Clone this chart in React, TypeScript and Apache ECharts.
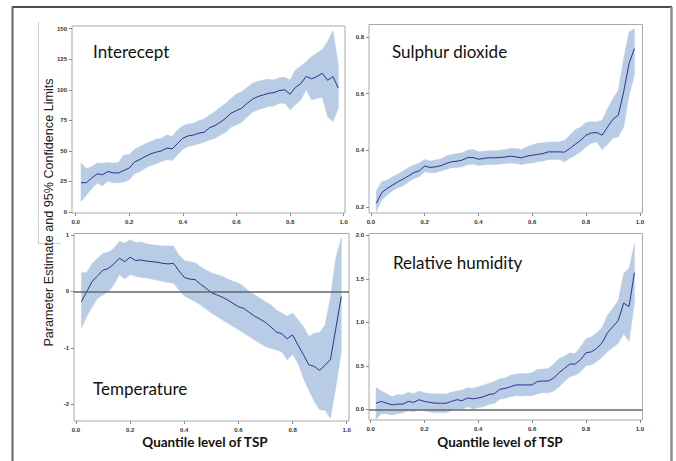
import React, { useEffect, useRef } from "react";
import * as echarts from "echarts";

const quantiles = [0.02, 0.04, 0.06, 0.08, 0.1, 0.12, 0.14, 0.16, 0.18, 0.2, 0.22, 0.24, 0.26, 0.28, 0.3, 0.32, 0.34, 0.36, 0.38, 0.4, 0.42, 0.44, 0.46, 0.48, 0.5, 0.52, 0.54, 0.56, 0.58, 0.6, 0.62, 0.64, 0.66, 0.68, 0.7, 0.72, 0.74, 0.76, 0.78, 0.8, 0.82, 0.84, 0.86, 0.88, 0.9, 0.92, 0.94, 0.96, 0.98];

const xTicks = [0, 0.2, 0.4, 0.6, 0.8, 1.0];

// Intercept
const intEst = [24, 24, 27.8, 31.3, 30.5, 33.2, 32, 32, 34, 36, 41, 43, 45.5, 47.6, 49, 50, 52.3, 51.7, 56, 60.4, 62.3, 63, 64.5, 65.3, 69, 70.8, 73.5, 76.8, 80.9, 83, 85, 89, 92.3, 94.5, 95.8, 97.2, 97.7, 99.4, 100, 96.4, 102, 105, 111, 109, 110.8, 113.5, 107.8, 110.8, 101.3];
const intLo = [8.7, 14, 19, 23.7, 21.5, 25.3, 23.7, 24, 24.5, 26.4, 31.3, 33.2, 36, 38, 39.5, 41.4, 42.7, 42.2, 46.8, 51.5, 53.6, 54.7, 55.8, 57.2, 59, 60.4, 63, 65.3, 69.4, 71.3, 73.5, 78, 81.7, 83.6, 85, 86.3, 86.8, 89, 89, 83.6, 87.7, 91.7, 100, 91.7, 93, 94, 78, 74, 85];
const intHi = [40, 35.4, 37.3, 40, 40, 40.6, 40, 40.6, 46.8, 46.8, 51.5, 53.6, 55.8, 57.7, 59.6, 60.4, 63, 61.8, 67.2, 70.5, 72.1, 72.7, 74.9, 76.2, 79.5, 82.2, 85.8, 89, 93, 96.6, 98.6, 102, 105.4, 107, 108, 108.6, 108, 110, 110.3, 108, 116.2, 119.5, 123, 127, 130, 133, 139.4, 148.4, 120.3];
const intTicks = [0, 25, 50, 75, 100, 125, 150];

// Sulphur dioxide
const so2Est = [0.212, 0.249, 0.265, 0.276, 0.288, 0.298, 0.309, 0.321, 0.327, 0.344, 0.339, 0.341, 0.345, 0.353, 0.359, 0.361, 0.365, 0.374, 0.374, 0.368, 0.371, 0.373, 0.373, 0.374, 0.376, 0.379, 0.376, 0.373, 0.379, 0.382, 0.385, 0.388, 0.394, 0.394, 0.394, 0.393, 0.406, 0.421, 0.435, 0.453, 0.461, 0.462, 0.453, 0.482, 0.509, 0.524, 0.606, 0.706, 0.759];
const so2Lo = [0.182, 0.224, 0.241, 0.256, 0.267, 0.274, 0.288, 0.3, 0.306, 0.324, 0.32, 0.321, 0.326, 0.332, 0.338, 0.339, 0.341, 0.349, 0.351, 0.346, 0.348, 0.349, 0.349, 0.351, 0.353, 0.355, 0.353, 0.349, 0.353, 0.355, 0.359, 0.362, 0.367, 0.367, 0.367, 0.359, 0.371, 0.382, 0.394, 0.412, 0.424, 0.429, 0.402, 0.421, 0.441, 0.447, 0.482, 0.594, 0.665];
const so2Hi = [0.256, 0.288, 0.294, 0.306, 0.315, 0.326, 0.339, 0.348, 0.355, 0.367, 0.362, 0.365, 0.369, 0.379, 0.385, 0.388, 0.391, 0.4, 0.402, 0.394, 0.396, 0.398, 0.398, 0.4, 0.402, 0.406, 0.406, 0.402, 0.412, 0.418, 0.424, 0.426, 0.429, 0.429, 0.429, 0.435, 0.453, 0.473, 0.482, 0.498, 0.5, 0.5, 0.506, 0.547, 0.582, 0.612, 0.724, 0.818, 0.829];
const so2Ticks = [0.2, 0.4, 0.6, 0.8];

// Temperature
const tEst = [-0.18, 0, 0.18, 0.28, 0.38, 0.41, 0.49, 0.59, 0.53, 0.61, 0.55, 0.56, 0.54, 0.53, 0.52, 0.5, 0.49, 0.5, 0.37, 0.25, 0.22, 0.21, 0.13, 0.06, -0.02, -0.06, -0.1, -0.15, -0.21, -0.27, -0.3, -0.37, -0.44, -0.49, -0.55, -0.63, -0.72, -0.75, -0.84, -0.77, -0.95, -1.12, -1.3, -1.33, -1.4, -1.31, -1.21, -0.65, -0.09];
const tLo = [-0.65, -0.44, -0.27, -0.12, -0.06, 0, 0.12, 0.3, 0.22, 0.3, 0.27, 0.25, 0.24, 0.22, 0.2, 0.18, 0.16, 0.15, 0.03, -0.08, -0.13, -0.18, -0.24, -0.31, -0.38, -0.44, -0.5, -0.56, -0.62, -0.68, -0.74, -0.8, -0.86, -0.92, -0.98, -1.01, -1.04, -1.07, -1.21, -1.12, -1.27, -1.54, -1.75, -1.95, -2.1, -2.11, -2.25, -1.69, -1.07];
const tHi = [0.33, 0.34, 0.5, 0.59, 0.68, 0.7, 0.77, 0.89, 0.86, 0.92, 0.87, 0.88, 0.85, 0.83, 0.82, 0.81, 0.81, 0.81, 0.65, 0.55, 0.53, 0.51, 0.44, 0.38, 0.33, 0.3, 0.27, 0.22, 0.18, 0.15, 0.09, 0, -0.06, -0.12, -0.18, -0.24, -0.33, -0.38, -0.44, -0.38, -0.5, -0.62, -0.8, -0.74, -0.73, -0.6, -0.1, 0.6, 0.95];
const tTicks = [-2, -1, 0, 1];

// Relative humidity
const rhEst = [0.07, 0.09, 0.07, 0.05, 0.06, 0.06, 0.09, 0.08, 0.11, 0.09, 0.08, 0.07, 0.07, 0.07, 0.09, 0.11, 0.1, 0.13, 0.12, 0.13, 0.145, 0.17, 0.18, 0.23, 0.24, 0.26, 0.28, 0.28, 0.28, 0.28, 0.32, 0.325, 0.325, 0.36, 0.42, 0.47, 0.52, 0.52, 0.57, 0.65, 0.66, 0.7, 0.765, 0.88, 0.95, 1.02, 1.22, 1.18, 1.57];
const rhLo = [-0.115, -0.05, -0.05, -0.065, -0.05, -0.04, -0.015, -0.03, 0, -0.015, -0.03, -0.04, -0.04, -0.04, -0.015, 0, 0, 0.03, 0.004, 0.02, 0.03, 0.057, 0.07, 0.115, 0.126, 0.145, 0.157, 0.153, 0.157, 0.157, 0.18, 0.19, 0.19, 0.21, 0.26, 0.32, 0.375, 0.39, 0.43, 0.5, 0.51, 0.55, 0.6, 0.66, 0.71, 0.76, 0.87, 0.78, 1.22];
const rhHi = [0.25, 0.21, 0.18, 0.145, 0.17, 0.165, 0.195, 0.18, 0.21, 0.19, 0.18, 0.18, 0.176, 0.176, 0.195, 0.21, 0.22, 0.25, 0.24, 0.26, 0.28, 0.3, 0.32, 0.35, 0.36, 0.39, 0.405, 0.41, 0.41, 0.42, 0.46, 0.46, 0.47, 0.52, 0.585, 0.61, 0.65, 0.64, 0.72, 0.81, 0.83, 0.88, 0.94, 1.08, 1.16, 1.25, 1.56, 1.62, 1.9];
const rhTicks = [0, 0.5, 1.0, 1.5, 2.0];

const BAND = "#b9cce6";
const LINE = "#28348a";
const FRAME = "#a9a9a9";
const TICKC = "#8a8a8a";
const LABELC = "#333";

function buildOption() {
  const panels = [
    { est: intEst, lo: intLo, hi: intHi, yTicks: intTicks, fmt: (v: number) => String(v), zero: false,
      grid: { left: 72, top: 26, width: 273, height: 187 }, xr: [-0.0137, 1.005], yr: [-0.8, 152.2] },
    { est: so2Est, lo: so2Lo, hi: so2Hi, yTicks: so2Ticks, fmt: (v: number) => v.toFixed(1), zero: false,
      grid: { left: 369, top: 24.5, width: 273.5, height: 188.5 }, xr: [-0.007, 1.01], yr: [0.178, 0.844] },
    { est: tEst, lo: tLo, hi: tHi, yTicks: tTicks, fmt: (v: number) => String(v), zero: true,
      grid: { left: 74, top: 233.5, width: 275, height: 187.5 }, xr: [-0.0074, 1.0085], yr: [-2.3, 1.03] },
    { est: rhEst, lo: rhLo, hi: rhHi, yTicks: rhTicks, fmt: (v: number) => v.toFixed(1), zero: true,
      grid: { left: 369, top: 233.5, width: 273.5, height: 186.5 }, xr: [-0.006, 1.01], yr: [-0.123, 2.02] },
  ];

  const grids: any[] = [];
  const xAxes: any[] = [];
  const yAxes: any[] = [];
  const series: any[] = [];
  const labelStyle = { fontSize: 6, fontWeight: "bold", color: LABELC, fontFamily: "Liberation Sans" };

  panels.forEach((p, i) => {
    grids.push({ ...p.grid, show: true, borderColor: FRAME, borderWidth: 1, backgroundColor: "#fff", containLabel: false, outerBoundsMode: "none" });
    xAxes.push({
      type: "value", gridIndex: i, min: p.xr[0], max: p.xr[1],
      axisLine: { show: false, onZero: false },
      axisTick: { show: true, length: 3, lineStyle: { color: TICKC }, customValues: xTicks },
      axisLabel: { ...labelStyle, margin: 6, customValues: xTicks, formatter: (v: number) => v.toFixed(1) },
      splitLine: { show: false },
    });
    yAxes.push({
      type: "value", gridIndex: i, min: p.yr[0], max: p.yr[1],
      axisLine: { show: false, onZero: false },
      axisTick: { show: true, length: 3, lineStyle: { color: TICKC }, customValues: p.yTicks },
      axisLabel: { ...labelStyle, margin: 5, customValues: p.yTicks, formatter: p.fmt },
      splitLine: { show: false },
    });
    const bandData = quantiles.map((q, k) => [q, p.lo[k], p.hi[k]]);
    series.push({
      type: "custom", xAxisIndex: i, yAxisIndex: i,
      data: bandData,
      encode: { x: 0, y: [1, 2] },
      silent: true, z: 1, clip: true,
      renderItem: (params: any, api: any) => {
        if (params.dataIndex !== 0) return null;
        const top = bandData.map((d) => api.coord([d[0], d[2]]));
        const bottom = bandData.map((d) => api.coord([d[0], d[1]])).reverse();
        return {
          type: "polygon",
          shape: { points: top.concat(bottom) },
          style: { fill: BAND, stroke: BAND, lineWidth: 0.5 },
        };
      },
    });
    series.push({
      type: "line", xAxisIndex: i, yAxisIndex: i,
      data: quantiles.map((q, k) => [q, p.est[k]]),
      symbol: "none", lineStyle: { width: 1, color: LINE }, silent: true, z: 3,
      markLine: p.zero
        ? { silent: true, symbol: "none", label: { show: false }, lineStyle: { color: "#666", width: 1.5, type: "solid" }, data: [{ yAxis: 0 }] }
        : undefined,
    });
  });

  const titleFont = { fontFamily: "Lato", fontSize: 17, fill: "#111" };
  const xTitle = { fontFamily: "Lato", fontSize: 13.5, fontWeight: "bold", fill: "#111", text: "Quantile level of TSP", textAlign: "center", textVerticalAlign: "middle" };
  const graphic: any[] = [
    { type: "line", shape: { x1: 12, y1: 7, x2: 672, y2: 7 }, style: { stroke: "#111", lineWidth: 1.5 }, z: 10 },
    { type: "line", shape: { x1: 12.5, y1: 7, x2: 12.5, y2: 461 }, style: { stroke: "#666", lineWidth: 2 }, z: 10 },
    { type: "line", shape: { x1: 671.5, y1: 7, x2: 671.5, y2: 461 }, style: { stroke: "#8f8f8f", lineWidth: 2.5 }, z: 10 },
    { type: "line", shape: { x1: 38.5, y1: 22, x2: 38.5, y2: 243 }, style: { stroke: "#cfcfcf", lineWidth: 1 }, z: 10 },
    { type: "line", shape: { x1: 38, y1: 243.5, x2: 61, y2: 243.5 }, style: { stroke: "#cfcfcf", lineWidth: 1 }, z: 10 },
    { type: "text", x: 93, y: 51, style: { ...titleFont, text: "Interecept", textVerticalAlign: "middle" }, z: 20 },
    { type: "text", x: 392, y: 51, style: { ...titleFont, text: "Sulphur dioxide", textVerticalAlign: "middle" }, z: 20 },
    { type: "text", x: 93, y: 388, style: { ...titleFont, text: "Temperature", textVerticalAlign: "middle" }, z: 20 },
    { type: "text", x: 393, y: 262, style: { ...titleFont, text: "Relative humidity", textVerticalAlign: "middle" }, z: 20 },
    { type: "text", x: 205, y: 442, style: { ...xTitle }, z: 20 },
    { type: "text", x: 500, y: 442, style: { ...xTitle }, z: 20 },
    { type: "text", x: 49, y: 212.5, rotation: Math.PI / 2, style: { fontFamily: "Liberation Sans", fontSize: 12.6, fill: "#222", text: "Parameter Estimate and 95% Confidence Limits", textAlign: "center", textVerticalAlign: "middle" }, z: 20 },
  ];

  return {
    animation: false,
    backgroundColor: "#fff",
    grid: grids,
    xAxis: xAxes,
    yAxis: yAxes,
    series,
    graphic,
  };
}

export default function App() {
  const ref = useRef<HTMLDivElement>(null);
  useEffect(() => {
    document.body.style.margin = "0";
    const chart = echarts.init(ref.current as HTMLDivElement, null, { renderer: "svg" });
    chart.setOption(buildOption() as any);
    return () => chart.dispose();
  }, []);
  return <div ref={ref} style={{ width: 676, height: 461 }} />;
}
